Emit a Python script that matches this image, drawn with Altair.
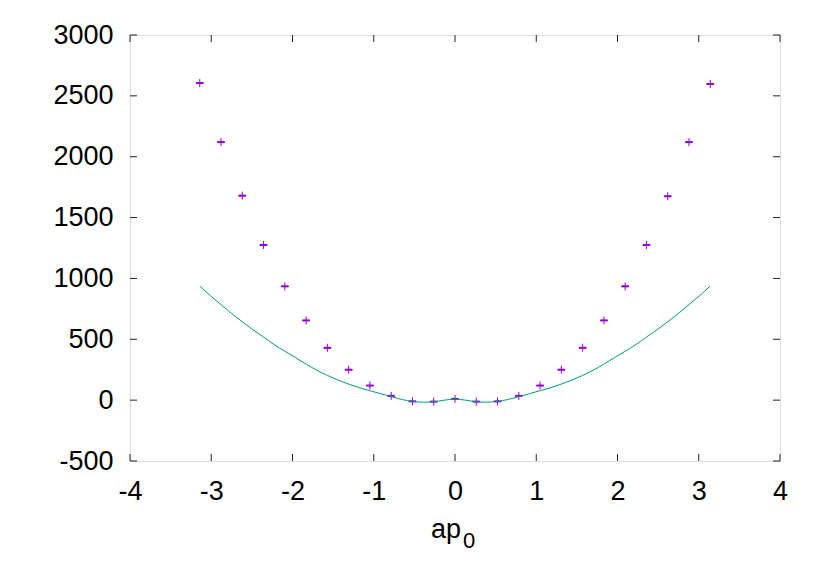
import altair as alt
import pandas as pd

# measured points (with tiny error bars)
pt_x = [-3.1416, -2.8798, -2.6180, -2.3562, -2.0944, -1.8326, -1.5708, -1.3090, -1.0472, -0.7854,
        -0.5236, -0.2618, 0.0, 0.2618, 0.5236, 0.7854, 1.0472, 1.3090, 1.5708, 1.8326,
        2.0944, 2.3562, 2.6180, 2.8798, 3.1416]
pt_y = [2605, 2120, 1680, 1275, 935, 655, 430, 250, 120, 35,
        -10, -12, 10, -12, -10, 35, 120, 250, 430, 655,
        935, 1275, 1675, 2120, 2598]

# fitted curve
ln_x = [-3.14, -3.01, -2.88, -2.75, -2.62, -2.49, -2.36, -2.23, -2.09, -1.96, -1.83, -1.70, -1.57,
        -1.44, -1.31, -1.18, -1.05, -0.92, -0.79, -0.65, -0.52, -0.39, -0.26, -0.13, 0.0,
        0.13, 0.26, 0.39, 0.52, 0.65, 0.79, 0.92, 1.05, 1.18, 1.31, 1.44, 1.57,
        1.70, 1.83, 1.96, 2.09, 2.23, 2.36, 2.49, 2.62, 2.75, 2.88, 3.01, 3.14]
ln_y = [937, 858, 785, 712, 645, 580, 520, 458, 400, 348, 295, 245, 203,
        165, 132, 103, 78, 54, 30, 5, -11, -17, -13, 0, 8,
        0, -13, -17, -11, 5, 30, 54, 78, 103, 132, 165, 203,
        245, 295, 348, 400, 458, 520, 580, 645, 712, 785, 858, 937]

x_ticks = [-4, -3, -2, -1, 0, 1, 2, 3, 4]
y_ticks = [-500, 0, 500, 1000, 1500, 2000, 2500, 3000]

W, H = 650, 426
TL = 7
FONT = "Liberation Sans"
FS = 27

pts = pd.DataFrame({"x": pt_x, "y": pt_y})
line = pd.DataFrame({"x": ln_x, "y": ln_y})
xt = pd.DataFrame({"v": x_ticks})
yt = pd.DataFrame({"v": y_ticks})

xscale = alt.Scale(domain=[-4, 4], nice=False, zero=False)
yscale = alt.Scale(domain=[-500, 3000], nice=False, zero=False)

xaxis = alt.Axis(values=x_ticks, title=None, grid=False, domain=False, ticks=False,
                 labelFont=FONT, labelFontSize=FS, labelColor="black", labelPadding=17,
                 labelFlush=False, labelExpr="datum.value + ''")
yaxis = alt.Axis(values=y_ticks, title=None, grid=False, domain=False, ticks=False,
                 labelFont=FONT, labelFontSize=FS, labelColor="black", labelPadding=17,
                 labelFlush=False, labelExpr="datum.value + ''")

base_pts = alt.Chart(pts).encode(
    x=alt.X("x:Q", scale=xscale, axis=xaxis),
    y=alt.Y("y:Q", scale=yscale, axis=yaxis),
)
plus = base_pts.mark_point(shape="M-1,0L1,0M0,-1L0,1", size=64, filled=False,
                           stroke="#9400d3", strokeWidth=1, opacity=1)
caps = base_pts.mark_point(shape="M-0.9,0L0.9,0", size=64, filled=False,
                           stroke="#9400d3", strokeWidth=2, opacity=1)

curve = alt.Chart(line).mark_line(color="#009e73", strokeWidth=1, interpolate="monotone").encode(
    x=alt.X("x:Q", scale=xscale), y=alt.Y("y:Q", scale=yscale))

tick_style = dict(color="#222222", strokeWidth=1)
xb = alt.Chart(xt).mark_rule(**tick_style).encode(
    x=alt.X("v:Q", scale=xscale), y=alt.value(H), y2=alt.value(H - TL))
xtop = alt.Chart(xt).mark_rule(**tick_style).encode(
    x=alt.X("v:Q", scale=xscale), y=alt.value(0), y2=alt.value(TL))
yl = alt.Chart(yt).mark_rule(**tick_style).encode(
    y=alt.Y("v:Q", scale=yscale), x=alt.value(0), x2=alt.value(TL))
yr = alt.Chart(yt).mark_rule(**tick_style).encode(
    y=alt.Y("v:Q", scale=yscale), x=alt.value(W), x2=alt.value(W - TL))

title_df = pd.DataFrame({"main": ["ap"], "sub": ["0"]})
t_main = alt.Chart(title_df).mark_text(font=FONT, fontSize=FS, align="center",
                                       baseline="alphabetic", color="black").encode(
    x=alt.value(316), y=alt.value(503), text="main:N")
t_sub = alt.Chart(title_df).mark_text(font=FONT, fontSize=22, align="left",
                                      baseline="alphabetic", color="black").encode(
    x=alt.value(333), y=alt.value(513), text="sub:N")

chart = alt.layer(caps, plus, curve, xb, xtop, yl, yr, t_main, t_sub).properties(
    width=W, height=H,
    autosize=alt.AutoSizeParams(type="none"),
    padding={"left": 122, "top": 27, "right": 30, "bottom": 110},
).configure_view(stroke="black", strokeWidth=1).configure(background="white")

chart.save("out.html", embed_options={"renderer": "svg", "actions": False})
